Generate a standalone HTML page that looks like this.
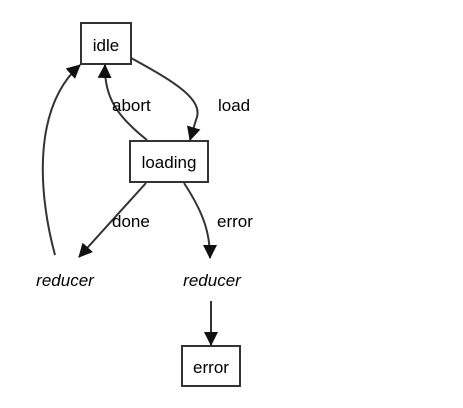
<!DOCTYPE html>
<html><head><style>
html,body{margin:0;padding:0;background:#fff;width:463px;height:408px;overflow:hidden}
svg text{font-family:"Liberation Sans",Arial,sans-serif;font-size:17px;fill:#000}
</style></head><body>
<svg width="463" height="408" viewBox="0 0 463 408">
<defs>
<marker id="b" markerWidth="14" markerHeight="14" refX="13" refY="7" orient="auto" markerUnits="userSpaceOnUse" viewBox="0 0 14 14"><path d="M0,0 L14,7 L0,14 z" fill="#111"/></marker></defs>
<g fill="none" stroke="#333" stroke-width="2">
<rect x="81" y="23" width="50" height="41"/>
<rect x="130" y="141" width="78" height="41"/>
<rect x="182" y="346" width="58" height="40"/>
<path d="M131,58 C175,82 205,100 196,120 L190,140" marker-end="url(#b)"/>
<path d="M147,140 C118,117 104,98 105,65" marker-end="url(#b)"/>
<path d="M146,183 L79,257" marker-end="url(#b)"/>
<path d="M184,183 C205,215 210,235 210,258" marker-end="url(#b)"/>
<path d="M55,255 C40,200 30,110 80,65" marker-end="url(#b)"/>
<path d="M211,301 L211,345" marker-end="url(#b)"/>
</g>
<text x="106" y="51" text-anchor="middle">idle</text>
<text x="169" y="168" text-anchor="middle">loading</text>
<text x="211" y="373" text-anchor="middle">error</text>
<text x="112" y="111">abort</text>
<text x="218" y="111">load</text>
<text x="112" y="227">done</text>
<text x="217" y="227">error</text>
<text x="65" y="286" text-anchor="middle" font-style="italic">reducer</text>
<text x="212" y="286" text-anchor="middle" font-style="italic">reducer</text>
</svg>
</body></html>
